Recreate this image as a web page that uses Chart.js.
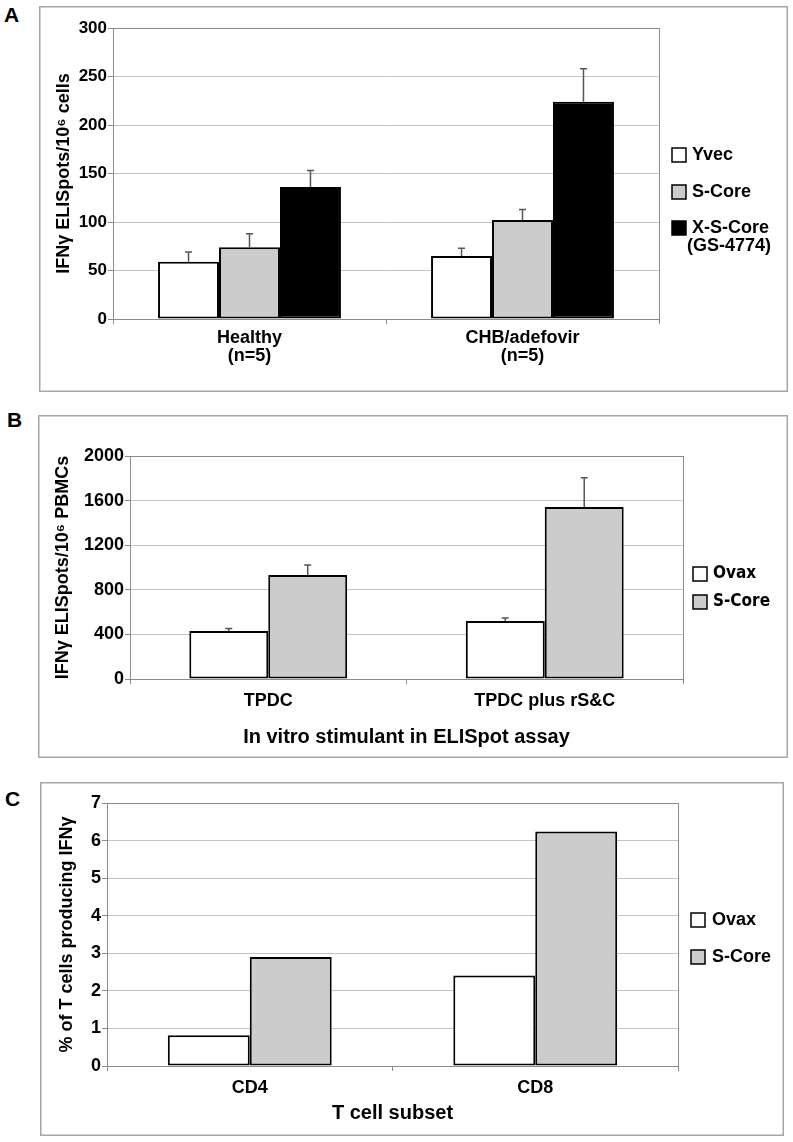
<!DOCTYPE html>
<html>
<head>
<meta charset="utf-8">
<script src="https://cdn.jsdelivr.net/npm/chart.js@4.4.1/dist/chart.umd.min.js"></script>
<style>
  body { margin: 0; background: #fff; width: 793px; height: 1142px; position: relative; overflow: hidden; }
  canvas { position: absolute; }
  .letter { position: absolute; font: bold 21px "Liberation Sans", Arial, sans-serif; line-height: 21px; color: #000; }
</style>
</head>
<body>
<div class="letter" style="left:4px;top:4px">A</div>
<div class="letter" style="left:7px;top:409px">B</div>
<div class="letter" style="left:5px;top:788px">C</div>
<canvas id="chartA" width="749" height="386" style="left:39px;top:6px"></canvas>
<canvas id="chartB" width="750" height="343" style="left:38px;top:415px"></canvas>
<canvas id="chartC" width="744" height="354" style="left:40px;top:782px"></canvas>
<script>
// ---- data ----
// panel A
const catsA = [['Healthy', '(n=5)'], ['CHB/adefovir', '(n=5)']];
const yvecA = [59, 65];
const yvecAErr = [10, 8];
const sCoreA = [74, 102];
const sCoreAErr = [14, 11];
const xsCoreA = [136, 224];
const xsCoreAErr = [17, 34];

// panel B
const catsB = ['TPDC', 'TPDC plus rS&C'];
const ovaxB = [430, 520];
const ovaxBErr = [24, 27];
const sCoreB = [933, 1543];
const sCoreBErr = [90, 262];

// panel C
const catsC = ['CD4', 'CD8'];
const ovaxC = [0.82, 2.41];
const sCoreC = [2.9, 6.24];

const ARIAL = '"Liberation Sans", Arial, sans-serif';
const WHITE = '#ffffff', GREY = '#cccccc', BLACK = '#000000';

// error bars: vertical line from bar top to value+err, with a cap
const errorBars = {
  id: 'errorBars',
  afterDatasetsDraw(chart) {
    const ctx = chart.ctx;
    const y = chart.scales.y;
    ctx.save();
    ctx.strokeStyle = '#555';
    ctx.lineWidth = 1.5;
    chart.data.datasets.forEach((ds, i) => {
      if (!ds.errs) return;
      chart.getDatasetMeta(i).data.forEach((bar, j) => {
        const top = y.getPixelForValue(ds.data[j] + ds.errs[j]);
        ctx.beginPath();
        ctx.moveTo(bar.x, bar.y);
        ctx.lineTo(bar.x, top);
        ctx.moveTo(bar.x - 3.5, top);
        ctx.lineTo(bar.x + 3.5, top);
        ctx.stroke();
      });
    });
    ctx.restore();
  }
};

// plot frame + outer panel box
const frame = {
  id: 'frame',
  beforeDatasetsDraw(chart) {
    const {ctx, chartArea: a} = chart;
    ctx.save();
    ctx.strokeStyle = '#8c8c8c';
    ctx.lineWidth = 1;
    ctx.strokeRect(Math.round(a.left) + 0.5, Math.round(a.top) + 0.5,
      Math.round(a.right - a.left), Math.round(a.bottom - a.top));
    ctx.restore();
  },
  afterDraw(chart) {
    const ctx = chart.ctx;
    ctx.save();
    ctx.strokeStyle = '#a6a6a6';
    ctx.lineWidth = 1.5;
    ctx.strokeRect(0.75, 0.75, chart.width - 1.5, chart.height - 1.5);
    ctx.restore();
  }
};

// legend drawn beside the plot
const sideLegend = {
  id: 'sideLegend',
  afterDraw(chart, args, opts) {
    const ctx = chart.ctx;
    ctx.save();
    ctx.font = opts.font;
    ctx.textBaseline = 'middle';
    ctx.fillStyle = '#000';
    chart.data.datasets.forEach((ds, i) => {
      const cy = opts.y[i];
      ctx.fillStyle = ds.backgroundColor;
      ctx.fillRect(opts.x, cy - opts.box / 2, opts.box, opts.box);
      ctx.strokeStyle = '#000';
      ctx.lineWidth = 1.5;
      ctx.strokeRect(opts.x, cy - opts.box / 2, opts.box, opts.box);
      ctx.fillStyle = '#000';
      ctx.fillText(ds.label, opts.textX, cy);
    });
    if (opts.extra) {
      ctx.fillText(opts.extra.text, opts.extra.x, opts.extra.y);
    }
    ctx.restore();
  }
};

function barSet(label, data, color, errs) {
  return {
    label, data, errs,
    backgroundColor: color,
    borderColor: '#000',
    borderWidth: 2,
    borderSkipped: false,
    barPercentage: 1.0
  };
}

function makeChart(id, p) {
  return new Chart(document.getElementById(id), {
    type: 'bar',
    data: { labels: p.labels, datasets: p.datasets.map(d => ({ ...d, categoryPercentage: p.catPct })) },
    plugins: [frame, errorBars, sideLegend],
    options: {
      responsive: false,
      animation: false,
      devicePixelRatio: 1,
      layout: { padding: p.padding },
      plugins: {
        legend: { display: false },
        tooltip: { enabled: false },
        sideLegend: p.legend
      },
      scales: {
        x: {
          grid: { drawOnChartArea: false, tickLength: 5, color: '#8c8c8c' },
          border: { color: '#8c8c8c' },
          ticks: { color: '#000', padding: p.xPad, maxRotation: 0, autoSkip: false,
                   font: { family: ARIAL, size: 18, weight: 'bold', lineHeight: 1.0 } },
          title: p.xTitle ? { display: true, text: p.xTitle, color: '#000',
                   padding: { top: 0, bottom: p.xTitlePad || 0 },
                   font: { family: ARIAL, size: 20, weight: 'bold' } } : { display: false },
          afterFit: s => { s.height = p.xHeight; }
        },
        y: {
          min: 0, max: p.yMax,
          grid: { color: '#c4c4c4', tickLength: 5, tickColor: '#8c8c8c' },
          border: { color: '#8c8c8c' },
          ticks: { stepSize: p.yStep, color: '#000', padding: 1,
                   callback: v => String(v),
                   font: { family: ARIAL, size: p.tickSize, weight: 'bold' } },
          title: { display: true, text: p.yTitle, color: '#000',
                   padding: { top: p.yTitlePad, bottom: 0 },
                   font: { family: ARIAL, size: 18, weight: 'bold' } },
          afterFit: s => { s.width = p.yWidth; }
        }
      }
    }
  });
}

makeChart('chartA', {
  labels: catsA,
  datasets: [
    barSet('Yvec', yvecA, WHITE, yvecAErr),
    barSet('S-Core', sCoreA, GREY, sCoreAErr),
    barSet('X-S-Core', xsCoreA, BLACK, xsCoreAErr)
  ],
  catPct: 0.67,
  padding: { left: 0, top: 22, right: 129, bottom: 13 },
  yWidth: 74, yMax: 300, yStep: 50, tickSize: 17,
  yTitle: 'IFNγ ELISpots/10⁶ cells', yTitlePad: 14,
  xHeight: 60, xPad: 5,
  legend: { x: 633, textX: 653, box: 14, y: [149, 186, 222], font: 'bold 18px ' + ARIAL,
            extra: { text: '(GS-4774)', x: 648, y: 240 } }
});

makeChart('chartB', {
  labels: catsB,
  datasets: [
    barSet('Ovax', ovaxB, WHITE, ovaxBErr),
    barSet('S-Core', sCoreB, GREY, sCoreBErr)
  ],
  catPct: 0.571,
  padding: { left: 0, top: 41, right: 105, bottom: 9 },
  yWidth: 92, yMax: 2000, yStep: 400, tickSize: 18,
  yTitle: 'IFNγ ELISpots/10⁶ PBMCs', yTitlePad: 14,
  xHeight: 70, xPad: 8, xTitle: 'In vitro stimulant in ELISpot assay',
  legend: { x: 655, textX: 675, box: 14, y: [159, 187],
            font: 'bold 17px "DejaVu Sans Condensed", "DejaVu Sans", sans-serif' }
});

makeChart('chartC', {
  labels: catsC,
  datasets: [
    barSet('Ovax', ovaxC, WHITE),
    barSet('S-Core', sCoreC, GREY)
  ],
  catPct: 0.574,
  padding: { left: 0, top: 21, right: 106, bottom: 10 },
  yWidth: 67, yMax: 7, yStep: 1, tickSize: 18,
  yTitle: '% of T cells producing IFNγ', yTitlePad: 16,
  xHeight: 60, xPad: 8, xTitle: 'T cell subset', xTitlePad: 1,
  legend: { x: 651, textX: 672, box: 14, y: [138, 175], font: 'bold 18px ' + ARIAL }
});
</script>
</body>
</html>
